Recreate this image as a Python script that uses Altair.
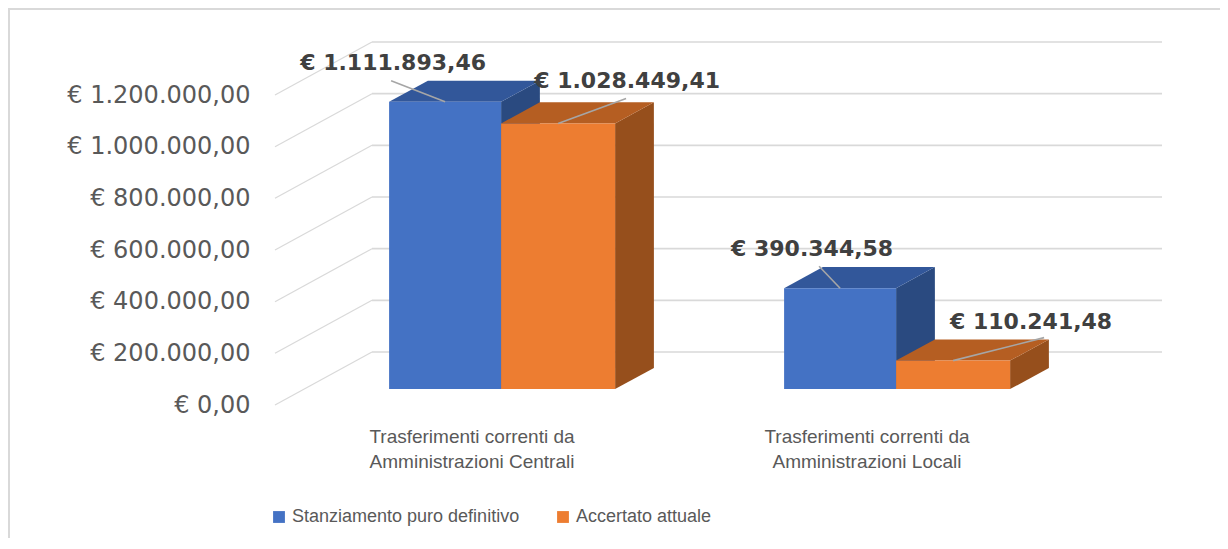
import altair as alt
import pandas as pd

# ---------------- data ----------------
CATEGORIES = ["Trasferimenti correnti da\nAmministrazioni Centrali",
              "Trasferimenti correnti da\nAmministrazioni Locali"]
SERIES = ["Stanziamento puro definitivo", "Accertato attuale"]
STANZIAMENTO = [1111893.46, 390344.58]
ACCERTATO = [1028449.41, 110241.48]
TICK_VALUES = [0, 200000, 400000, 600000, 800000, 1000000, 1200000]
TICK_LABELS = ["€ 0,00", "€ 200.000,00", "€ 400.000,00", "€ 600.000,00",
               "€ 800.000,00", "€ 1.000.000,00", "€ 1.200.000,00"]

# ---------------- style / layout ----------------
W, H = 1212, 530
K = 310 / 1.2e6            # px per euro
Y0 = 397                   # px from plot top where 0 sits on the front plane
Y_DOMAIN = [-(H - Y0) / K, Y0 / K]
DX = 97                    # depth offset in px (x)
DY = 53 / K                # depth offset expressed in euros (y)
FRONT_X = 267
WALL_RIGHT = 1154
D_FRONT, D_BACK = 0.3, 0.7
GROUP_X0, GROUP_STEP = 464, 395
BAR_W = [112, 114]
FRONT_COL = ["#4472C4", "#ED7D31"]
TOP_COL = ["#32579A", "#B55E22"]
SIDE_COL = ["#2A4A80", "#964F1C"]
LABEL_OFF = [[(-52, -39), (69, -42)], [(-28, -39), (78, -39)]]
LEADER_OFF = [[(-54, -21), (68, -25)], [(-21, -22), (91, -23)]]
GRID_COL = "#d9d9d9"
TEXT_COL = "#595959"


def fmt_it(v):
    s = f"{v:,.2f}".replace(",", "X").replace(".", ",").replace("X", ".")
    return "€ " + s


values = [STANZIAMENTO, ACCERTATO]

fronts, sides, tops, labels, leaders = [], [], [], [], []
for i, cat in enumerate(CATEGORIES):
    c = GROUP_X0 + i * GROUP_STEP
    edges = [(c - BAR_W[0], c), (c, c + BAR_W[1])]
    for j, ser in enumerate(SERIES):
        v = values[j][i]
        xl, xr = edges[j]
        bid = f"{i}-{j}"
        fronts.append(dict(series=ser, x=xl + D_FRONT * DX, x2=xr + D_FRONT * DX,
                           y=D_FRONT * DY, y2=v + D_FRONT * DY))
        for d in (D_FRONT, D_BACK):
            sides.append(dict(bid=bid, col=SIDE_COL[j], x=xr + d * DX,
                              y=d * DY, y2=v + d * DY))
            tops.append(dict(bid=bid, col=TOP_COL[j], y=v + d * DY,
                             x=xl + d * DX, x2=xr + d * DX))
        tx = (xl + xr) / 2 + D_FRONT * DX
        ty = v + D_FRONT * DY
        ldx, ldy = LABEL_OFF[i][j]
        labels.append(dict(text=fmt_it(v), x=tx + ldx, y=ty - ldy / K))
        adx, ady = LEADER_OFF[i][j]
        leaders.append(dict(x=tx, y=ty, x2=tx + adx, y2=ty - ady / K))

grid_diag = pd.DataFrame([dict(x=FRONT_X, x2=FRONT_X + DX, y=t, y2=t + DY) for t in TICK_VALUES])
grid_back = pd.DataFrame([dict(x=FRONT_X + DX, x2=WALL_RIGHT, y=t + DY, y2=t + DY) for t in TICK_VALUES])
cats = pd.DataFrame([dict(cat=cat, x=GROUP_X0 + i * GROUP_STEP) for i, cat in enumerate(CATEGORIES)])

xs = alt.Scale(domain=[0, W], nice=False, zero=False)
ys = alt.Scale(domain=Y_DOMAIN, nice=False, zero=False)

label_expr = " : ".join(f"datum.value == {v} ? '{l}'" for v, l in zip(TICK_VALUES, TICK_LABELS)) + " : ''"
yaxis = alt.Axis(values=TICK_VALUES, labelExpr=label_expr, offset=-242, ticks=False,
                 domain=False, grid=False, labelPadding=0, title=None,
                 labelFont="DejaVu Sans", labelFontSize=24, labelColor=TEXT_COL,
                 labelAlign="right", labelBaseline="middle", labelLimit=400)


def X(f):
    return alt.X(f, scale=xs, axis=None, stack=None)


def Y(f):
    return alt.Y(f, scale=ys, axis=yaxis, stack=None)


g_diag = alt.Chart(grid_diag).mark_rule(color=GRID_COL, strokeWidth=1.2).encode(
    x=X("x:Q"), x2="x2:Q", y=Y("y:Q"), y2="y2:Q")
g_back = alt.Chart(grid_back).mark_rule(color=GRID_COL, strokeWidth=1.6).encode(
    x=X("x:Q"), x2="x2:Q", y=Y("y:Q"), y2="y2:Q")

side_l = alt.Chart(pd.DataFrame(sides)).mark_area(orient="vertical").encode(
    x=X("x:Q"), y=Y("y:Q"), y2="y2:Q", detail="bid:N",
    color=alt.Color("col:N", scale=None))
top_l = alt.Chart(pd.DataFrame(tops)).mark_area(orient="horizontal").encode(
    y=Y("y:Q"), x=X("x:Q"), x2="x2:Q", detail="bid:N",
    color=alt.Color("col:N", scale=None))
front_l = alt.Chart(pd.DataFrame(fronts)).mark_rect().encode(
    x=X("x:Q"), x2="x2:Q", y=Y("y:Q"), y2="y2:Q",
    color=alt.Color("series:N", scale=alt.Scale(domain=SERIES, range=FRONT_COL),
                    sort=SERIES,
                    legend=alt.Legend(title=None, orient="none", legendX=262, legendY=500,
                                      direction="horizontal", symbolType="square",
                                      symbolSize=140, symbolStrokeWidth=0,
                                      labelFont="Liberation Sans", labelFontSize=18,
                                      labelColor=TEXT_COL, labelOffset=4,
                                      columnPadding=34, padding=0, labelLimit=400)))

leader_l = alt.Chart(pd.DataFrame(leaders)).mark_rule(color="#a6a6a6", strokeWidth=1.6).encode(
    x=X("x:Q"), x2="x2:Q", y=Y("y:Q"), y2="y2:Q")
label_l = alt.Chart(pd.DataFrame(labels)).mark_text(
    font="DejaVu Sans", fontWeight="bold", fontSize=22, color="#404040",
    align="center", baseline="middle").encode(x=X("x:Q"), y=Y("y:Q"), text="text:N")

cat_l = alt.Chart(cats).mark_text(
    font="Liberation Sans", fontSize=19, color=TEXT_COL, align="center",
    baseline="top", lineBreak="\n", lineHeight=25).encode(
    x=X("x:Q"), y=alt.value(420), text="cat:N")

border_src = pd.DataFrame({"a": [0]})
border_left = alt.Chart(border_src).mark_rule(color=GRID_COL, strokeWidth=2).encode(
    x=alt.value(1), y=alt.value(0), y2=alt.value(H))
border_top = alt.Chart(border_src).mark_rule(color=GRID_COL, strokeWidth=2).encode(
    x=alt.value(0), x2=alt.value(W), y=alt.value(1))

chart = alt.layer(
    g_diag, g_back, side_l, top_l, front_l, leader_l, label_l, cat_l, border_left, border_top
).properties(
    width=W, height=H, padding=0, autosize=alt.AutoSizeParams(type="none"),
    background="white"
).configure_view(stroke=None)

chart.save("out.html", embed_options={"renderer": "svg", "actions": False})
